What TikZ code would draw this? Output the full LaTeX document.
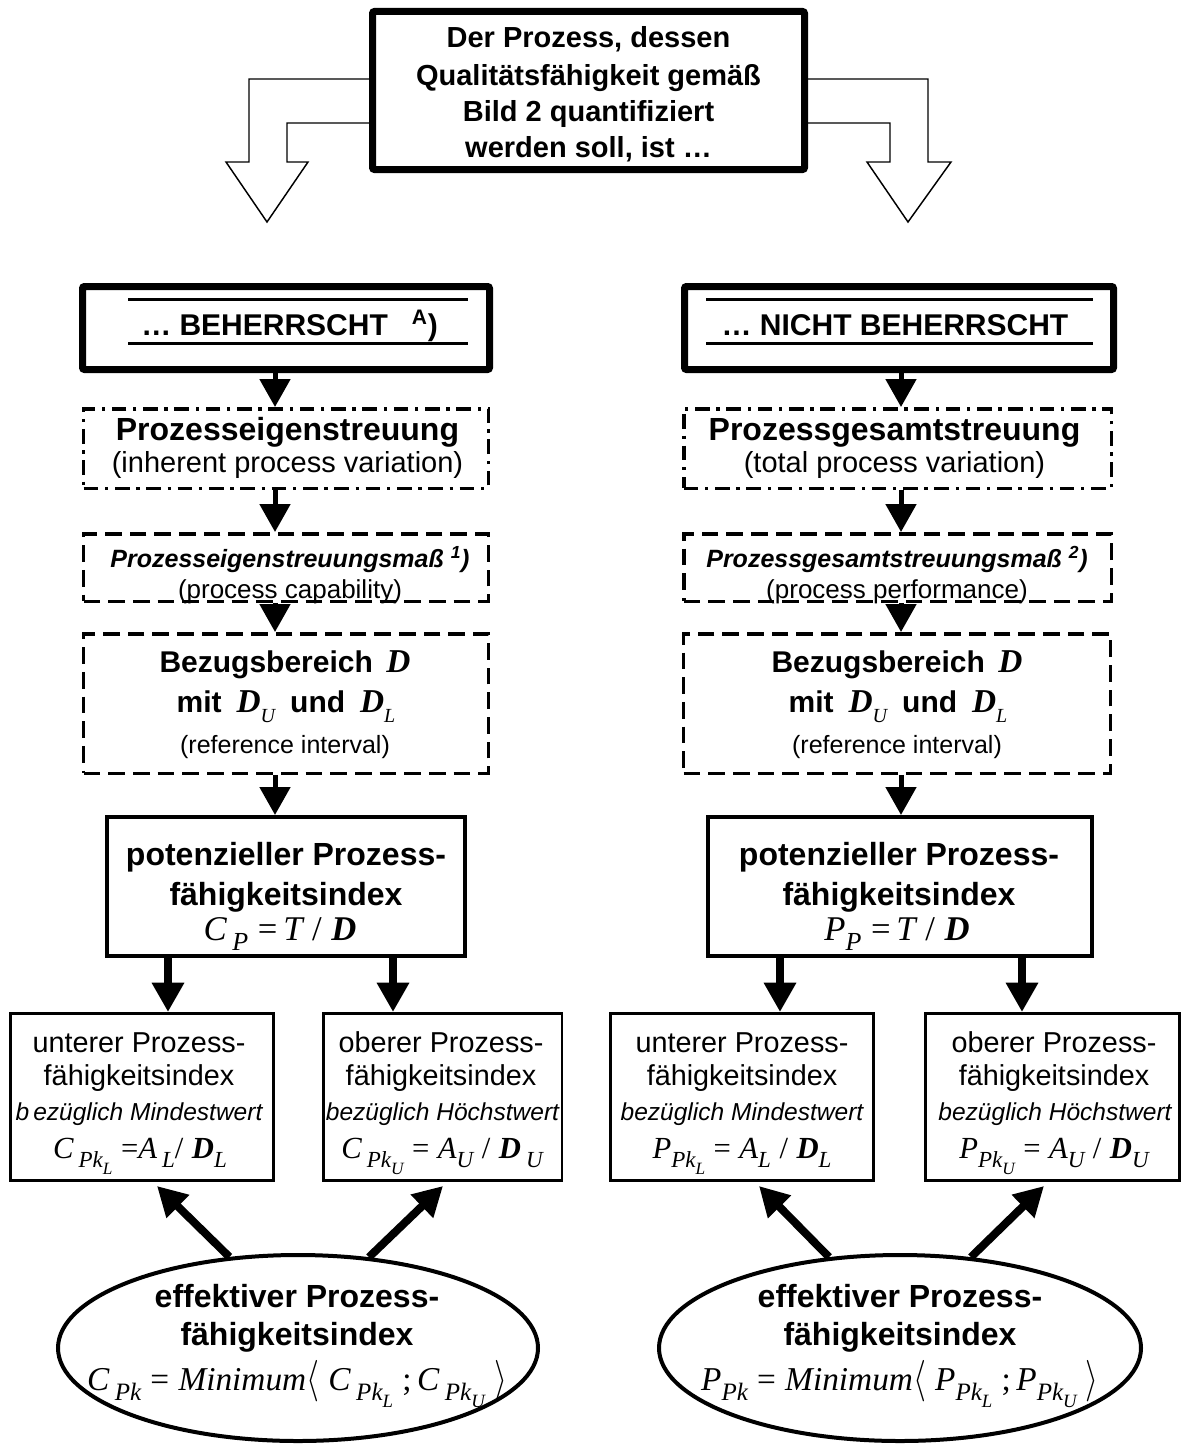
\documentclass[tikz,border=0pt]{standalone}
\usepackage{fontspec}
\setmainfont{Liberation Sans}
\newfontfamily\tnr{Liberation Serif}
\usetikzlibrary{arrows.meta,shapes.geometric,calc}
\newcommand\fs[2]{\fontsize{#1pt}{#2pt}\selectfont}
\makeatletter
\newcommand\sbs[2][3/4]{\raisebox{-0.3em}{\fontsize{\dimexpr\f@size pt*#1\relax}{0pt}\selectfont #2}}
\makeatother
\newcommand\fI[1]{{\tnr\itshape #1}}
\newcommand\fR[1]{{\tnr\upshape #1}}
\newcommand\vD{{\tnr\bfseries\itshape D}}
\newcommand\lang{\raisebox{-0.05em}{\scalebox{1}[1.25]{$\bigg\langle$}}}
\newcommand\rang{\raisebox{-0.05em}{\scalebox{1}[1.25]{$\bigg\rangle$}}}
\begin{document}
\begin{tikzpicture}[x=0.75pt,y=-0.75pt,
  thickbox/.style={draw, line width=5.25pt, rounded corners=1.5pt, fill=white, inner sep=0pt},
  ddbox/.style={draw, line width=2.6pt, dash pattern=on 11pt off 5pt on 2.5pt off 5pt, inner sep=0pt},
  dbox/.style={draw, line width=2.6pt, dash pattern=on 12.5pt off 6pt, inner sep=0pt},
  potbox/.style={draw, line width=3pt, inner sep=0pt},
  smallbox/.style={draw, line width=1.9pt, inner sep=0pt},
  effell/.style={draw, ellipse, line width=3pt, inner sep=0pt},
  dbl/.style={line width=2.25pt},
  arr/.style={line width=3.75pt, -{Triangle[length=21pt,width=22.5pt]}},
  arrb/.style={line width=6pt, -{Triangle[length=22pt,width=23pt]}},
  hollow/.style={draw, line width=1.1pt, fill=white, line join=miter},
  txt/.style={inner sep=0pt, anchor=base},
  topt/.style={txt, font=\fs{21.75}{26}\bfseries},
  hdrt/.style={txt, font=\fs{22.5}{26}\bfseries},
  bigt/.style={txt, font=\fs{24}{28}\bfseries},
  subt/.style={txt, font=\fs{21.75}{26}},
  msst/.style={txt, font=\fs{18.75}{22}\bfseries\itshape},
  mpar/.style={txt, font=\fs{19.5}{22}},
  bezt/.style={txt, font=\fs{22.5}{26}\bfseries},
  refp/.style={txt, font=\fs{18.75}{22}},
  smt/.style={txt, font=\fs{21.6}{25}},
  smit/.style={txt, font=\fs{18.4}{22}\itshape},
  fmla/.style={txt, font=\fs{26}{28}},
  fmls/.style={txt, font=\fs{23}{25}},
  fmle/.style={txt, font=\fs{25}{28}}
]
\path[use as bounding box, fill=white] (0,0) rectangle (1183,1445);

% hollow bent arrows from the top box
\draw[hollow] (380,79) -- (249,79) -- (249,162) -- (226,162) -- (267,222) -- (308,162) -- (287,162) -- (287,123) -- (380,123);
\draw[hollow] (797,79) -- (928,79) -- (928,162) -- (951,162) -- (908,222) -- (867,162) -- (890,162) -- (890,123) -- (797,123);

% top box
\node[thickbox, minimum width=324pt, minimum height=118.5pt] (top) at (588.5,90.5) {};
\node[topt] (top1) at (588.5,48) {Der Prozess, dessen};
\node[topt] (top2) at (588.5,85) {Qualitätsfähigkeit gemäß};
\node[topt] (top3) at (588.5,121) {Bild 2 quantifiziert};
\node[topt] (top4) at (588.5,157) {werden soll, ist …};

% column coordinates
\coordinate (cL) at (275,0);
\coordinate (cR) at (901,0);
\coordinate (a1) at (168,0);
\coordinate (a2) at (393,0);
\coordinate (a3) at (780,0);
\coordinate (a4) at (1022,0);
\coordinate (d1) at (157,0);
\coordinate (d2) at (443,0);
\coordinate (d3) at (759,0);
\coordinate (d4) at (1044,0);

% header boxes
\node[thickbox, minimum width=305.25pt, minimum height=62.25pt] (hL) at (286,328) {};
\draw[dbl] (128,299) -- (468,299);
\draw[dbl] (128,343) -- (468,343);
\node[hdrt] (hLt) at (289.5,335) {… BEHERRSCHT\hspace{0.8em}\textsuperscript{A})};
\node[thickbox, minimum width=321.75pt, minimum height=62.25pt] (hR) at (899,328) {};
\draw[dbl] (706,299) -- (1093,299);
\draw[dbl] (706,343) -- (1093,343);
\node[hdrt] (hRt) at (895,335) {… NICHT BEHERRSCHT};

% dash-dot boxes
\node[ddbox, minimum width=303.4pt, minimum height=59.6pt] (sL) at (286,448.5) {};
\node[bigt] (sL1) at (287.5,440) {Prozesseigenstreuung};
\node[subt] (sL2) at (287.5,472) {(inherent process variation)};
\node[ddbox, minimum width=320.6pt, minimum height=59.6pt] (sR) at (897.5,448.5) {};
\node[bigt] (sR1) at (894.5,440) {Prozessgesamtstreuung};
\node[subt] (sR2) at (894.5,472) {(total process variation)};

% dashed boxes (measure)
\node[dbox, minimum width=303.4pt, minimum height=50.6pt] (mL) at (286,567.5) {};
\node[msst] (mL1) at (290,567) {Prozesseigenstreuungsmaß \textsuperscript{1})};
\node[mpar] (mL2) at (290,598) {(process capability)};
\node[dbox, minimum width=320.6pt, minimum height=50.6pt] (mR) at (897.5,567.5) {};
\node[msst] (mR1) at (897,567) {Prozessgesamtstreuungsmaß \textsuperscript{2})};
\node[mpar] (mR2) at (897,598) {(process performance)};

% dashed boxes (reference interval)
\node[dbox, minimum width=303.4pt, minimum height=104.6pt] (bL) at (286,703.5) {};
\node[bezt] (bL1) at (285,672) {Bezugsbereich\hspace{0.45em}{\fs{25}{26}\vD}};
\node[bezt] (bL2) at (286,712) {mit\hspace{0.5em}{\fs{25}{26}\vD\fI{\mdseries\sbs[6/10]{U}}}\hspace{0.5em}und\hspace{0.5em}{\fs{25}{26}\vD\fI{\mdseries\sbs[6/10]{L}}}};
\node[refp] (bL3) at (285,753) {(reference interval)};
\node[dbox, minimum width=319.9pt, minimum height=104.6pt] (bR) at (897,703.5) {};
\node[bezt] (bR1) at (897,672) {Bezugsbereich\hspace{0.45em}{\fs{25}{26}\vD}};
\node[bezt] (bR2) at (898,712) {mit\hspace{0.5em}{\fs{25}{26}\vD\fI{\mdseries\sbs[6/10]{U}}}\hspace{0.5em}und\hspace{0.5em}{\fs{25}{26}\vD\fI{\mdseries\sbs[6/10]{L}}}};
\node[refp] (bR3) at (897,753) {(reference interval)};

% potential index boxes
\node[potbox, minimum width=268.5pt, minimum height=104.25pt] (pL) at (286,886.5) {};
\node[bigt] (pL1) at (286,865) {potenzieller Prozess-};
\node[bigt] (pL2) at (286,905) {fähigkeitsindex};
\node[fmla] (pL3) at (280,940) {\fI{C\,\sbs{P}} \fR{=}\,\fI{T} \fR{/} \vD};
\node[potbox, minimum width=288pt, minimum height=104.25pt] (pR) at (900,886.5) {};
\node[bigt] (pR1) at (899,865) {potenzieller Prozess-};
\node[bigt] (pR2) at (899,905) {fähigkeitsindex};
\node[fmla] (pR3) at (897,940) {\fI{P\sbs{P}} \fR{=}\,\fI{T} \fR{/} \vD};

% small boxes
\node[smallbox, minimum width=197.6pt, minimum height=125.6pt] (uLL) at (142,1097) {};
\node[smt] (uLL1) at (139,1052) {unterer Prozess-};
\node[smt] (uLL2) at (139,1085) {fähigkeitsindex};
\node[smit] (uLL3) at (139,1120) {b\,ezüglich Mindestwert};
\node[fmls] (uLL4) at (140,1158) {\fI{C\,\sbs{Pk\sbs{L}}} \fR{=}\fI{A\,\sbs{L}}\fR{/} \vD\fI{\sbs{L}}};

\node[smallbox, minimum width=178.9pt, minimum height=125.6pt] (uLR) at (442.5,1097) {};
\node[smt] (uLR1) at (441,1052) {oberer Prozess-};
\node[smt] (uLR2) at (441,1085) {fähigkeitsindex};
\node[smit] (uLR3) at (442.5,1120) {bezüglich Höchstwert};
\node[fmls] (uLR4) at (442,1158) {\fI{C\,\sbs{Pk\sbs{U}}} \fR{=} \fI{A\sbs{U}} \fR{/} \vD\,\fI{\sbs{U}}};

\node[smallbox, minimum width=197.6pt, minimum height=125.6pt] (uRL) at (742,1097) {};
\node[smt] (uRL1) at (742,1052) {unterer Prozess-};
\node[smt] (uRL2) at (742,1085) {fähigkeitsindex};
\node[smit] (uRL3) at (742,1120) {bezüglich Mindestwert};
\node[fmls] (uRL4) at (742,1158) {\fI{P\sbs{Pk\sbs{L}}} \fR{=} \fI{A\sbs{L}} \fR{/} \vD\fI{\sbs{L}}};

\node[smallbox, minimum width=190.6pt, minimum height=125.6pt] (uRR) at (1052.5,1097) {};
\node[smt] (uRR1) at (1054,1052) {oberer Prozess-};
\node[smt] (uRR2) at (1054,1085) {fähigkeitsindex};
\node[smit] (uRR3) at (1055,1120) {bezüglich Höchstwert};
\node[fmls] (uRR4) at (1054,1158) {\fI{P\sbs{Pk\sbs{U}}} \fR{=} \fI{A\sbs{U}} \fR{/} \vD\fI{\sbs{U}}};

% ellipses
\node[effell, minimum width=360pt, minimum height=139.5pt] (eL) at (298,1348) {};
\node[bigt] (eL1) at (297,1307) {effektiver Prozess-};
\node[bigt] (eL2) at (297,1345) {fähigkeitsindex};
\node[fmle] (eL3) at (297,1390) {\fI{C\,\sbs{Pk}} \fR{=} \fI{Minimum}\lang\ \fI{C\,\sbs{Pk\sbs{L}}} \fR{;}\,\fI{C\,\sbs{Pk\sbs{U}}}\ \rang};
\node[effell, minimum width=361.5pt, minimum height=139.5pt] (eR) at (900,1348) {};
\node[bigt] (eR1) at (900,1307) {effektiver Prozess-};
\node[bigt] (eR2) at (900,1345) {fähigkeitsindex};
\node[fmle] (eR3) at (900,1390) {\fI{P\sbs{Pk}} \fR{=} \fI{Minimum}\lang\ \fI{P\sbs{Pk\sbs{L}}} \fR{;}\,\fI{P\sbs{Pk\sbs{U}}}\ \rang};

% vertical arrows, left column
\draw[arr] (hL.south -| cL) -- (sL.north -| cL);
\draw[arr] (sL.south -| cL) -- (mL.north -| cL);
\draw[arr] (mL.south -| cL) -- (bL.north -| cL);
\draw[arr] (bL.south -| cL) -- (pL.north -| cL);
% vertical arrows, right column
\draw[arr] (hR.south -| cR) -- (sR.north -| cR);
\draw[arr] (sR.south -| cR) -- (mR.north -| cR);
\draw[arr] (mR.south -| cR) -- (bR.north -| cR);
\draw[arr] (bR.south -| cR) -- (pR.north -| cR);
% potential -> small boxes
\draw[arrb] (pL.south -| a1) -- (uLL.north -| a1);
\draw[arrb] (pL.south -| a2) -- (uLR.north -| a2);
\draw[arrb] (pR.south -| a3) -- (uRL.north -| a3);
\draw[arrb] (pR.south -| a4) -- (uRR.north -| a4);
% ellipse -> small boxes
\draw[arrb] (eL.127) -- ($(uLL.south -| d1)+(0,4)$);
\draw[arrb] (eL.52) -- ($(uLR.south -| d2)+(0,4)$);
\draw[arrb] (eR.128) -- ($(uRL.south -| d3)+(0,4)$);
\draw[arrb] (eR.52) -- ($(uRR.south -| d4)+(0,4)$);
\end{tikzpicture}
\end{document}
